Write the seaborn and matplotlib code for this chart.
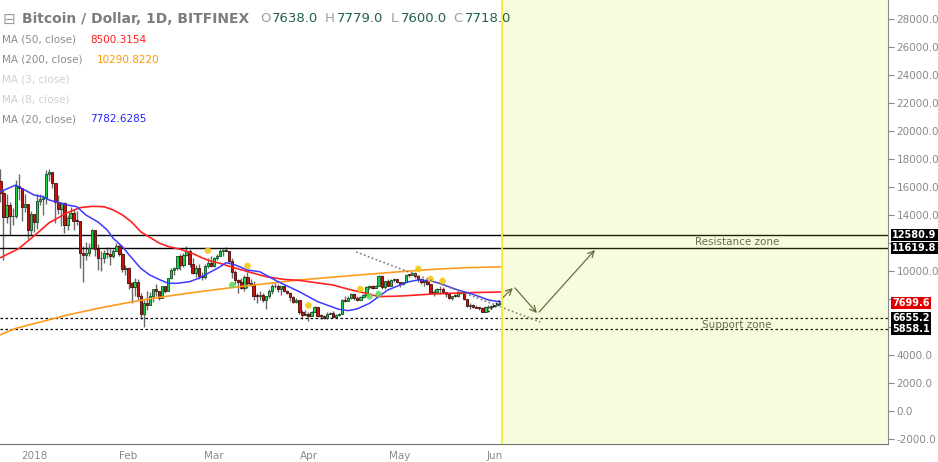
import numpy as np
import pandas as pd
import matplotlib
matplotlib.use("Agg")
import matplotlib.pyplot as plt
import matplotlib.dates as mdates
import seaborn as sns

# ---------------- data ----------------
start_date = "2017-12-20"
end_date = "2018-06-03"
opens = [17700, 16450, 15600, 13850, 14700, 13900, 13950, 16050, 15900, 14600, 14750, 12950,
         14050, 13500, 15000, 15150, 15200, 16950, 17100, 16250, 14950, 14400, 14850, 13300,
         13800, 14150, 13600, 13550, 11300, 11150, 11300, 11650, 12900, 11600, 10900, 10950,
         11300, 11250, 11100, 11450, 11800, 11250, 10150,
         10250, 9150, 8850, 9200, 8200, 6950, 7700, 7600, 8250, 8700, 8550, 8100, 8900, 8550,
         9500, 10050, 10200, 11100, 10400, 11150, 11400, 10500, 9850, 10200, 9650, 9600, 10350, 10600,
         10350, 10950, 11050, 11450, 11500, 11450, 10750, 9950, 9350, 9250, 8800, 9550, 9150, 9100,
         8250, 8230, 8300, 7900, 8200, 8600, 8950, 8900, 8700, 8900, 8550, 8450, 8150, 7800, 7950,
         7100, 6850,
         6950, 6800, 7050, 7400, 6800, 6780, 6620, 6900, 7000, 6750, 6850, 6950, 7900, 7880, 8050,
         8350, 8050, 7900, 8150, 8300, 8850, 8900, 8800, 8950, 9650, 8850, 9300, 8950, 9350, 9400,
         9250, 9050, 9250, 9750, 9700, 9850, 9650, 9400, 9200, 9300, 9050, 8450, 8500, 8700, 8680,
         8500, 8350, 8050, 8250, 8240, 8500, 8400, 8000, 7500, 7600, 7450, 7350, 7340, 7100, 7450,
         7400, 7500, 7540, 7638]
highs = [17900, 17300, 15800, 15500, 14900, 14500, 16500, 16900, 15900, 15500, 14800, 14300,
         14050, 15500, 15500, 15400, 17200, 17250, 17100, 16300, 15400, 14900, 14900, 14000,
         14600, 14400, 14300, 13600, 11800, 12100, 12000, 13000, 12900, 11900, 11400, 11500,
         11700, 11600, 11600, 12000, 11900, 11300, 10400,
         10300, 9200, 9500, 9400, 8400, 7900, 8600, 8500, 8750, 9100, 8600, 8950, 8900, 9500,
         10200, 10300, 11100, 11200, 11300, 11800, 11600, 10900, 10400, 10500, 9900, 10500, 10900, 11100,
         11000, 11200, 11550, 11550, 11700, 11450, 10900, 10100, 9400, 9500, 9750, 9900, 9450, 9300,
         8450, 8600, 8400, 8250, 8700, 9050, 9150, 9100, 8950, 9000, 8650, 8500, 8200, 8100, 7950,
         7250, 7200,
         7050, 7150, 7500, 7400, 6900, 6850, 7050, 7100, 7150, 6900, 6970, 8000, 8200, 8200, 8400,
         8400, 8200, 8200, 8350, 8900, 9000, 9000, 9000, 9700, 9750, 9300, 9400, 9450, 9500, 9450,
         9250, 9250, 9800, 9800, 9950, 9950, 9700, 9500, 9350, 9380, 9050, 8650, 8800, 8900, 8850,
         8500, 8450, 8250, 8350, 8550, 8550, 8400, 8000, 7700, 7650, 7600, 7400, 7450, 7500, 7550,
         7600, 7600, 7700, 7779]
lows = [15600, 14900, 10800, 13400, 12600, 13300, 13800, 15100, 13600, 14200, 12300, 12600,
        12800, 13000, 14700, 14000, 14800, 16400, 15900, 13400, 14100, 13200, 12700, 12900,
        13800, 12900, 13300, 10200, 9200, 10800, 11100, 11600, 11100, 10100, 10000, 10600,
        10900, 10400, 10900, 11400, 11100, 9900, 9700,
        8750, 7700, 8200, 7900, 6600, 6000, 7200, 7600, 7800, 8200, 7900, 8100, 8400, 8550,
        9400, 9700, 10100, 10100, 10300, 11100, 10300, 9800, 9600, 9400, 9350, 9400, 10200, 10300,
        10300, 10800, 11050, 11100, 11400, 10600, 9500, 9100, 8400, 8750, 8550, 8800, 8900, 7950,
        7750, 7900, 7800, 7300, 8100, 8350, 8800, 8500, 8300, 8500, 8350, 7850, 7750, 7750, 6950,
        6600, 6850,
        6450, 6800, 7050, 6750, 6600, 6550, 6600, 6900, 6650, 6700, 6800, 6900, 7800, 7850, 8000,
        7950, 7850, 7900, 8100, 8200, 8750, 8750, 8800, 8950, 8750, 8700, 8900, 8900, 9200, 9150,
        8850, 9000, 9200, 9550, 9700, 9500, 9200, 9050, 8950, 9000, 8400, 8200, 8400, 8350, 8450,
        8150, 8000, 7950, 8150, 8150, 8350, 7950, 7450, 7300, 7350, 7350, 7250, 7050, 7050, 7300,
        7400, 7400, 7500, 7600]
closes = [16450, 15600, 13850, 14700, 13900, 13950, 16050, 15900, 14600, 14750, 12950, 14050,
          13500, 15000, 15150, 15200, 16950, 17100, 16250, 14950, 14400, 14850, 13300, 13800,
          14150, 13600, 13550, 11300, 11150, 11300, 11650, 12900, 11600, 10900, 10950, 11300,
          11250, 11100, 11450, 11800, 11250, 10150, 10250,
          9150, 8850, 9200, 8200, 6950, 7700, 7600, 8250, 8700, 8550, 8100, 8900, 8550, 9500,
          10050, 10200, 11100, 10400, 11150, 11400, 10500, 9850, 10200, 9650, 9600, 10350, 10600, 10350,
          10950, 11050, 11450, 11500, 11450, 10750, 9950, 9350, 9250, 8800, 9550, 9150, 9100, 8250,
          8230, 8300, 7900, 8200, 8600, 8950, 8900, 8700, 8900, 8550, 8450, 8150, 7800, 7950, 7100,
          6850, 6950,
          6800, 7050, 7400, 6800, 6780, 6620, 6900, 7000, 6750, 6850, 6950, 7900, 7880, 8050, 8350,
          8050, 7900, 8150, 8300, 8850, 8900, 8800, 8950, 9650, 8850, 9300, 8950, 9350, 9400, 9250,
          9050, 9250, 9750, 9700, 9850, 9650, 9400, 9200, 9300, 9050, 8450, 8500, 8700, 8680, 8500,
          8350, 8050, 8250, 8240, 8500, 8400, 8000, 7500, 7600, 7450, 7350, 7340, 7100, 7450, 7400,
          7500, 7540, 7638, 7718]

# moving averages
ma20_dates = ["2017-12-21", "2017-12-26", "2018-01-01", "2018-01-04", "2018-01-06", "2018-01-12",
              "2018-01-15", "2018-01-18", "2018-01-22", "2018-01-25", "2018-01-27", "2018-01-30",
              "2018-02-01", "2018-02-05", "2018-02-08", "2018-02-11", "2018-02-14", "2018-02-17",
              "2018-02-21", "2018-02-24", "2018-02-27", "2018-03-03", "2018-03-05", "2018-03-08",
              "2018-03-12", "2018-03-16", "2018-03-22", "2018-03-29", "2018-04-04", "2018-04-11",
              "2018-04-14", "2018-04-17", "2018-04-21", "2018-04-24", "2018-04-27", "2018-05-01",
              "2018-05-04", "2018-05-07", "2018-05-11", "2018-05-14", "2018-05-17", "2018-05-20",
              "2018-05-24", "2018-05-27", "2018-05-30", "2018-06-03"]
ma20_vals = [15670, 16140, 15430, 15300, 15070, 14710, 14600, 14000, 13500, 12930, 12330, 11740,
             11200, 10190, 9710, 9400, 9120, 9120, 9240, 9480, 9830, 10300, 10600, 10430,
             10070, 9950, 9240, 8520, 7810, 7260, 7170, 7300, 7690, 8170, 8640, 9000,
             9240, 9360, 9290, 9120, 8880, 8640, 8400, 8170, 7930, 7780]
ma50_dates = ["2017-12-21", "2017-12-27", "2018-01-01", "2018-01-06", "2018-01-12", "2018-01-16",
              "2018-01-20", "2018-01-24", "2018-01-27", "2018-01-30", "2018-02-02", "2018-02-05",
              "2018-02-08", "2018-02-11", "2018-02-14", "2018-02-18", "2018-02-22", "2018-02-25",
              "2018-02-28", "2018-03-03", "2018-03-07", "2018-03-13", "2018-03-18", "2018-03-24",
              "2018-03-29", "2018-04-09", "2018-04-14", "2018-04-20", "2018-04-24", "2018-05-01",
              "2018-05-12", "2018-05-23", "2018-06-03"]
ma50_vals = [10950, 11600, 12500, 13450, 14170, 14520, 14620, 14590, 14360, 14000, 13500, 12800,
             12400, 12000, 11750, 11550, 11250, 10950, 10700, 10550, 10270, 9900, 9600, 9400,
             9330, 9000, 8700, 8400, 8170, 8210, 8360, 8450, 8500]
ma200_dates = ["2017-12-21", "2017-12-26", "2018-01-12", "2018-01-22", "2018-02-01", "2018-02-09",
               "2018-02-20", "2018-03-03", "2018-03-12", "2018-03-29", "2018-04-20", "2018-05-01",
               "2018-05-12", "2018-05-23", "2018-06-03"]
ma200_vals = [5450, 5900, 6860, 7330, 7750, 8050, 8400, 8710, 8950, 9360, 9760, 9950,
              10120, 10240, 10290]

yellow_dot_dates = ["2018-02-27", "2018-03-12", "2018-04-01", "2018-04-18", "2018-05-07",
                    "2018-05-11", "2018-05-15"]
yellow_dot_vals = [11460, 10360, 7540, 8710, 10140, 9430, 9290]
green_dot_dates = ["2018-03-07", "2018-04-21", "2018-04-24"]
green_dot_vals = [9000, 8180, 8360]

resistance_levels = [12580.9, 11619.8]
support_levels = [6655.2, 5858.1]
last_price = 7699.6
ytick_vals = list(range(-2000, 28001, 2000))
hidden_ticks = [12000, 8000, 6000]   # covered by the price boxes in the original
xtick_dates = ["2018-01-01", "2018-02-01", "2018-03-01", "2018-04-01", "2018-05-01", "2018-06-01"]
xtick_labels = ["2018", "Feb", "Mar", "Apr", "May", "Jun"]

# ---------------- style ----------------
sns.set_style("white")
plt.rcParams["font.family"] = ["DejaVu Sans"]

W, H = 938, 462
fig = plt.figure(figsize=(W / 100, H / 100), dpi=100)
ax = fig.add_axes([0, 18 / H, 888 / W, 444 / H])

dates = pd.date_range(start_date, end_date, freq="D")
assert len(dates) == len(opens) == len(highs) == len(lows) == len(closes)
df = pd.DataFrame({"date": dates, "open": opens, "high": highs, "low": lows, "close": closes})
xd = mdates.date2num(df["date"])
up = (df["close"] >= df["open"]).to_numpy()

# wicks
ax.vlines(xd, df["low"], df["high"], color="#6a6a6a", lw=1.0, zorder=2)
# bodies
body_bottom = np.minimum(df["open"], df["close"]).to_numpy()
body_h = np.maximum(np.abs(df["close"] - df["open"]), 60).to_numpy()
ax.bar(xd[up], body_h[up], bottom=body_bottom[up], width=0.78, color="#19d24a",
       edgecolor="#124a22", linewidth=0.6, zorder=3)
ax.bar(xd[~up], body_h[~up], bottom=body_bottom[~up], width=0.78, color="#c4120c",
       edgecolor="#4a0806", linewidth=0.6, zorder=3)

# moving averages
ma200 = pd.DataFrame({"date": pd.to_datetime(ma200_dates), "v": ma200_vals})
ma50 = pd.DataFrame({"date": pd.to_datetime(ma50_dates), "v": ma50_vals})
ma20 = pd.DataFrame({"date": pd.to_datetime(ma20_dates), "v": ma20_vals})
sns.lineplot(data=ma200, x="date", y="v", ax=ax, color="#ff9a1a", lw=1.2, zorder=4)
sns.lineplot(data=ma50, x="date", y="v", ax=ax, color="#ff2222", lw=1.2, zorder=4)
sns.lineplot(data=ma20, x="date", y="v", ax=ax, color="#3a3aff", lw=1.1, zorder=4)

# dots
ydots = pd.DataFrame({"date": pd.to_datetime(yellow_dot_dates), "v": yellow_dot_vals})
gdots = pd.DataFrame({"date": pd.to_datetime(green_dot_dates), "v": green_dot_vals})
sns.scatterplot(data=ydots, x="date", y="v", ax=ax, color="#f5c60f", s=22, edgecolor="none",
                alpha=0.9, zorder=5)
sns.scatterplot(data=gdots, x="date", y="v", ax=ax, color="#62d862", s=22, edgecolor="none",
                alpha=0.9, zorder=5)

# horizontal levels
for lv in resistance_levels:
    ax.axhline(lv, color="black", lw=1.0, zorder=2)
for lv in support_levels:
    ax.axhline(lv, color="black", lw=0.9, ls=(0, (2, 2)), zorder=2)

def dnum(s, extra=0.0):
    return mdates.date2num(pd.Timestamp(s)) + extra

jan1 = dnum("2018-01-01")

# trend lines & projected path
ax.plot([jan1 + 105.6, jan1 + 166.0], [11360, 6360], color="#7a7a7a", lw=1.2,
        ls=(0, (1, 1.5)), zorder=6)
ax.plot([jan1 + 148.9, jan1 + 153.4], [7070, 8030], color="#111111", lw=1.2,
        ls=(0, (1, 1.2)), zorder=6)
arrow_kw = dict(arrowstyle="->", color="#55583f", lw=0.9, mutation_scale=11,
                shrinkA=0, shrinkB=0)
ax.annotate("", xy=(jan1 + 157.0, 8790), xytext=(jan1 + 153.4, 8030), arrowprops=arrow_kw, zorder=7)
ax.annotate("", xy=(jan1 + 164.9, 7000), xytext=(jan1 + 157.7, 8790), arrowprops=arrow_kw, zorder=7)
ax.annotate("", xy=(jan1 + 183.9, 11500), xytext=(jan1 + 165.6, 7070), arrowprops=arrow_kw, zorder=7)

ax.text(jan1 + 230.5, 12100, "Resistance zone", ha="center", va="center", fontsize=7.5,
        color="#555555", zorder=8)
ax.text(jan1 + 230.5, 6150, "Support zone", ha="center", va="center", fontsize=7.5,
        color="#555555", zorder=8)

# axes limits
x_left = jan1 - 34 / 3.05
x_right = jan1 + 854 / 3.05
x_future = jan1 + 468 / 3.05
ax.set_xlim(x_left, x_right)
ax.set_ylim(-2357, 29357)

# future (yellow) area
ax.axvspan(x_future, x_right, color="#d6f02e", alpha=0.15, lw=0, zorder=9)
ax.axvline(x_future, color="#f2f22a", lw=1.3, zorder=10)

# axes styling
ax.set_xlabel("")
ax.set_ylabel("")
for side in ["top", "left"]:
    ax.spines[side].set_visible(False)
ax.spines["right"].set_color("#8a8a8a")
ax.spines["bottom"].set_color("#707070")
ax.yaxis.tick_right()
ax.set_yticks(ytick_vals)
ax.set_yticklabels(["" if v in hidden_ticks else f"{v:.1f}" for v in ytick_vals])
ax.set_xticks([dnum(d) for d in xtick_dates])
ax.set_xticklabels(xtick_labels)
ax.tick_params(axis="y", colors="#8a8a8a", labelsize=7.5, length=4, width=0.8, pad=2,
               direction="out", right=True, left=False)
ax.tick_params(axis="x", colors="#8a8a8a", labelsize=7.5, length=3, width=0.8, pad=2,
               direction="out")
ax.grid(False)

# price boxes on the right axis
box_specs = [(resistance_levels[0], "black"), (resistance_levels[1], "black"),
             (last_price, "#e00000"), (support_levels[0], "black"), (support_levels[1], "black")]
for val, col in box_specs:
    ax.annotate(f"{val:.1f}", xy=(1, val), xycoords=("axes fraction", "data"),
                xytext=(3, 0), textcoords="offset points", ha="left", va="center",
                fontsize=7, fontweight="bold", color="white", annotation_clip=False,
                bbox=dict(boxstyle="square,pad=0.12", fc=col, ec="none"), zorder=20)

# header / legend text
def ftext(x, y, s, **kw):
    fig.text(x / W, 1 - y / H, s, va="center", ha="left", **kw)

ftext(3, 19, "\u229f", fontsize=11, color="#9a9a9a")
ftext(22, 19, "Bitcoin / Dollar, 1D, BITFINEX", fontsize=10, fontweight="bold", color="#7d7d7d")
ohlc_items = [(260, "O", 272, "7638.0"), (325, "H", 337, "7779.0"),
              (391, "L", 401, "7600.0"), (453, "C", 465, "7718.0")]
for xl, lab, xv, val in ohlc_items:
    ftext(xl, 19, lab, fontsize=9.5, color="#a0a0a0")
    ftext(xv, 19, val, fontsize=9.5, color="#23604e")

legend_rows = [(40, "MA (50, close)", "#8c8c8c", 90, "8500.3154", "#ff1a1a"),
               (60, "MA (200, close)", "#8c8c8c", 97, "10290.8220", "#ff9800"),
               (80, "MA (3, close)", "#cfcfcf", None, None, None),
               (100, "MA (8, close)", "#cfcfcf", None, None, None),
               (119, "MA (20, close)", "#8c8c8c", 90, "7782.6285", "#2323ff")]
for y, lab, lc, xv, val, vc in legend_rows:
    ftext(2, y, lab, fontsize=7.5, color=lc)
    if val:
        ftext(xv, y, val, fontsize=7.5, color=vc)

fig.savefig("out.png", dpi=100)
